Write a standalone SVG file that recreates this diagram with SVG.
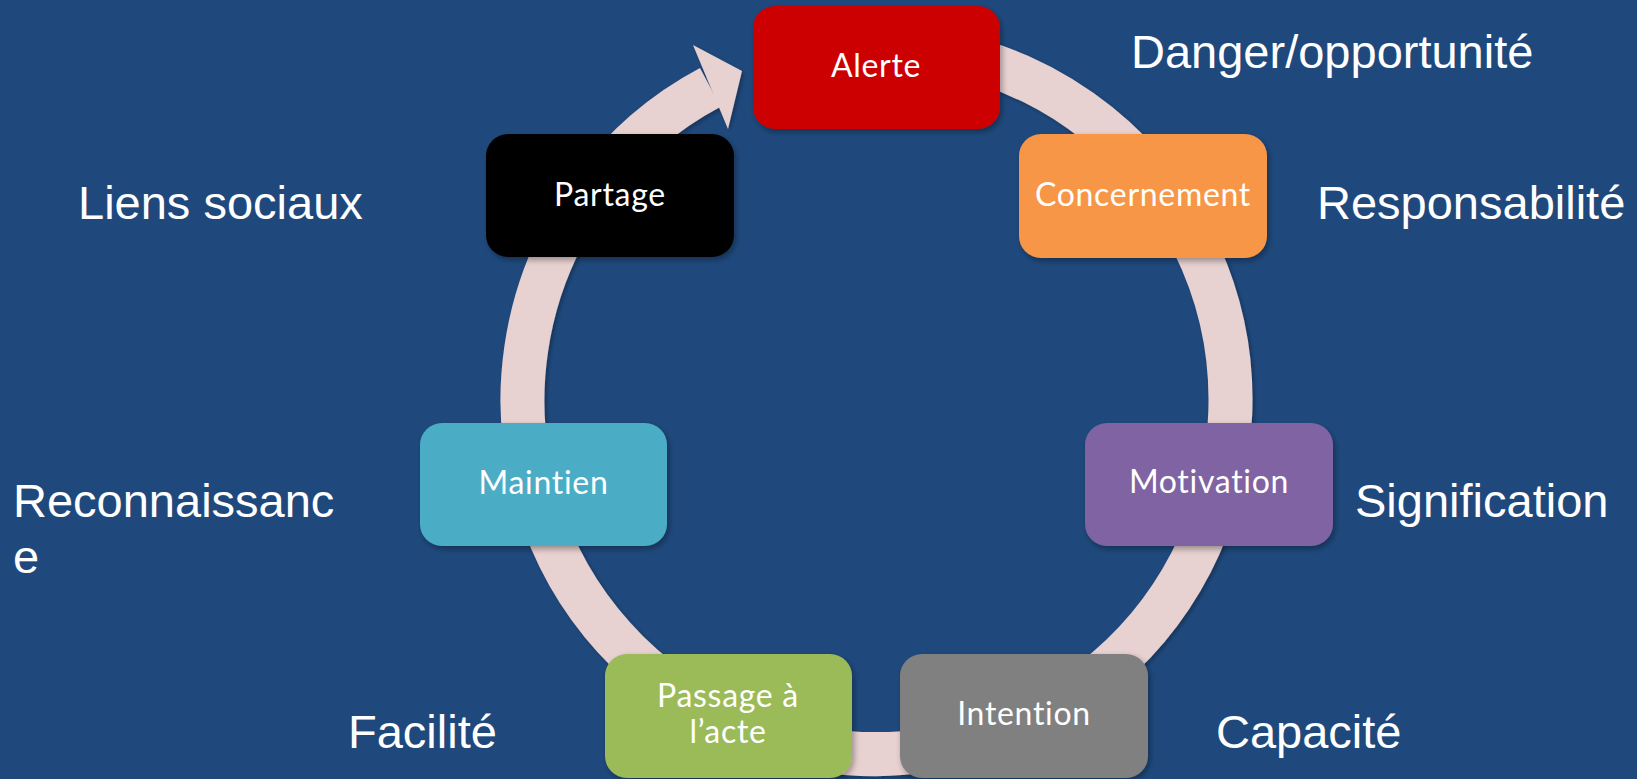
<svg xmlns="http://www.w3.org/2000/svg" width="1637" height="779" viewBox="0 0 1637 779">
<defs>
<filter id="sh" x="-10%" y="-10%" width="130%" height="140%">
<feDropShadow dx="2" dy="3" stdDeviation="3" flood-color="#000" flood-opacity="0.35"/>
</filter>
<filter id="rsh" x="-10%" y="-10%" width="120%" height="120%">
<feDropShadow dx="2" dy="2" stdDeviation="2" flood-color="#000" flood-opacity="0.3"/>
</filter>
</defs>
<style>
.box{stroke:none}
.nl{font-family:Lato,"Open Sans","DejaVu Sans",sans-serif;font-size:32px;letter-spacing:0.7px;fill:#fff;text-anchor:middle}
.ol{font-family:"Liberation Sans",Arial,sans-serif;font-size:47px;fill:#fff}
</style>
<rect x="0" y="0" width="1637" height="779" fill="#1F497D"/>
<g id="connectors" filter="url(#rsh)">
<path d="M 937.97 51.38 A 354 354 0 1 1 710.31 87.44" fill="none" stroke="#E8D1D1" stroke-width="44"/>
<polygon points="693,45 742,71 728,129" fill="#E8D1D1"/>
</g>
<g id="alerte"><rect class="box" x="753" y="6" width="247" height="123" rx="22" fill="#CC0000" filter="url(#sh)"/><text class="nl" x="876" y="77">Alerte</text></g>
<g id="concernement"><rect class="box" x="1019" y="134" width="248" height="124" rx="22" fill="#F79646" filter="url(#sh)"/><text class="nl" x="1143" y="206">Concernement</text></g>
<g id="motivation"><rect class="box" x="1085" y="423" width="248" height="123" rx="22" fill="#8064A2" filter="url(#sh)"/><text class="nl" x="1209" y="493">Motivation</text></g>
<g id="intention"><rect class="box" x="900" y="654" width="248" height="124" rx="22" fill="#808080" filter="url(#sh)"/><text class="nl" x="1024" y="725">Intention</text></g>
<g id="passage"><rect class="box" x="605" y="654" width="247" height="124" rx="22" fill="#9BBB59" filter="url(#sh)"/><text class="nl" x="728" y="707">Passage à</text><text class="nl" x="728" y="743">l’acte</text></g>
<g id="maintien"><rect class="box" x="420" y="423" width="247" height="123" rx="22" fill="#4BACC6" filter="url(#sh)"/><text class="nl" x="543.5" y="494">Maintien</text></g>
<g id="partage"><rect class="box" x="486" y="134" width="248" height="123" rx="22" fill="#000000" filter="url(#sh)"/><text class="nl" x="610" y="206">Partage</text></g>
<g id="labels">
<text class="ol" x="1131" y="68">Danger/opportunité</text>
<text class="ol" x="1317" y="219">Responsabilité</text>
<text class="ol" x="1355" y="517">Signification</text>
<text class="ol" x="1216" y="748">Capacité</text>
<text class="ol" x="348" y="748">Facilité</text>
<text class="ol" x="13"><tspan x="13" y="517">Reconnaissanc</tspan><tspan x="13" y="573">e</tspan></text>
<text class="ol" x="78" y="219">Liens sociaux</text>
</g>
</svg>
